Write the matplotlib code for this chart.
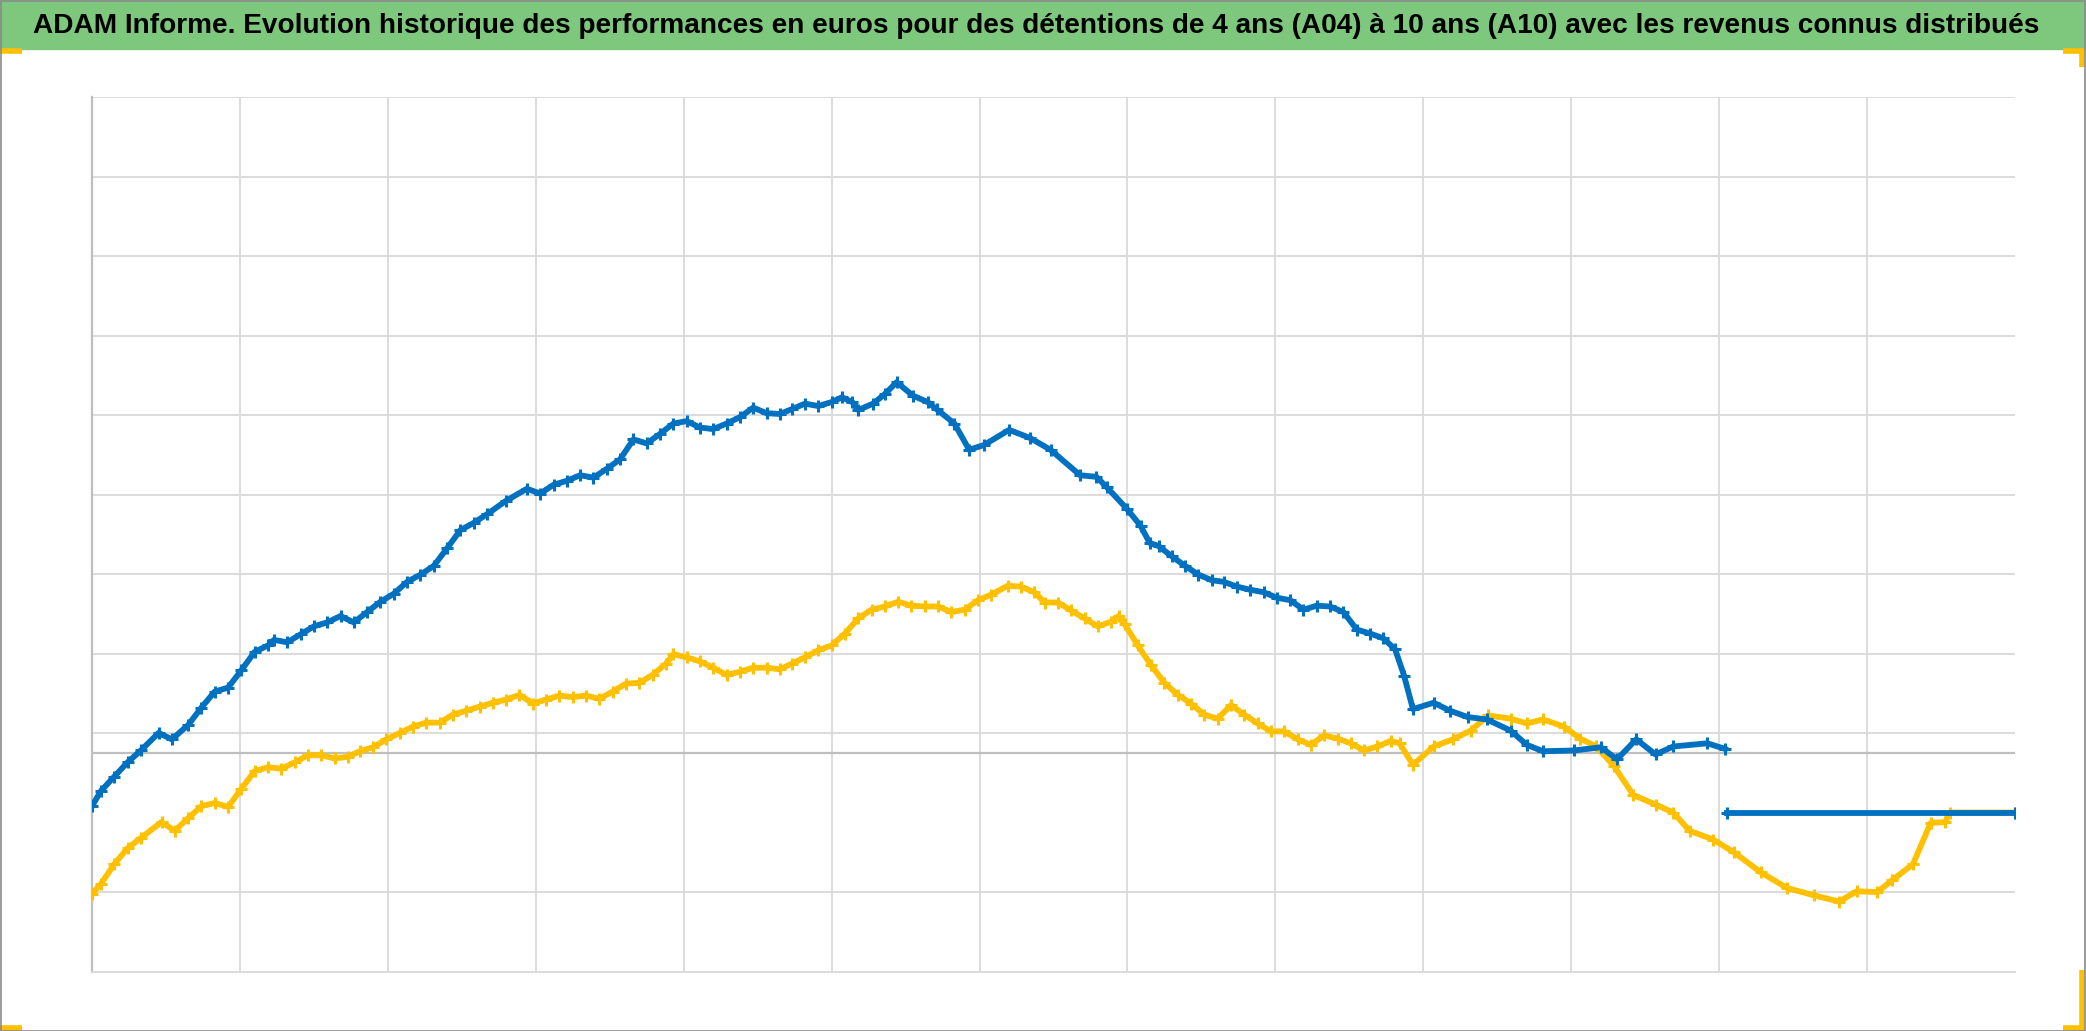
"""ADAM Informe: performance history for 4-year (A04) and 10-year (A10) holdings."""

import matplotlib

matplotlib.use("Agg")
import matplotlib.pyplot as plt
from matplotlib.lines import Line2D
from matplotlib.patches import Rectangle

TITLE = (
    "ADAM Informe. Evolution historique des performances en euros pour des "
    "détentions de 4 ans (A04) à 10 ans (A10) avec les revenus connus distribués"
)

# x in grid periods (13 of them), y in grid steps; no tick labels on the original
A10_X = [0, 0.06, 0.15, 0.24, 0.33, 0.45, 0.54, 0.65, 0.74, 0.83, 0.92, 1.01,
         1.10, 1.19, 1.23, 1.32, 1.41, 1.50, 1.59, 1.68, 1.77, 1.86, 1.95, 2.04,
         2.13, 2.22, 2.31, 2.40, 2.49, 2.58, 2.67, 2.80, 2.94, 3.03, 3.12, 3.21,
         3.30, 3.39, 3.48, 3.57, 3.66, 3.75, 3.84, 3.93, 4.02, 4.11, 4.20, 4.29,
         4.38, 4.47, 4.56, 4.65, 4.73, 4.82, 4.91, 5.00, 5.07, 5.14, 5.18, 5.28,
         5.36, 5.44, 5.55, 5.65, 5.71, 5.83, 5.93, 6.03, 6.20, 6.34, 6.48, 6.68,
         6.79, 6.86, 7.00, 7.09, 7.15, 7.21, 7.30, 7.39, 7.48, 7.57, 7.65, 7.74,
         7.83, 7.92, 8.01, 8.10, 8.19, 8.28, 8.37, 8.46, 8.55, 8.64, 8.73, 8.81,
         8.87, 8.93, 9.07, 9.18, 9.30, 9.43, 9.59, 9.70, 9.81, 10.02, 10.20,
         10.31, 10.44, 10.57, 10.69, 10.92, 11.04]
A10_Y = [-0.67, -0.48, -0.30, -0.12, 0.03, 0.25, 0.17, 0.35, 0.57, 0.77, 0.82,
         1.04, 1.27, 1.35, 1.42, 1.39, 1.49, 1.59, 1.64, 1.72, 1.64, 1.77, 1.90,
         2.00, 2.15, 2.24, 2.35, 2.57, 2.80, 2.89, 3.00, 3.17, 3.32, 3.26, 3.37,
         3.42, 3.49, 3.46, 3.57, 3.69, 3.94, 3.89, 4.01, 4.14, 4.17, 4.09, 4.07,
         4.14, 4.22, 4.34, 4.27, 4.26, 4.32, 4.39, 4.36, 4.41, 4.47, 4.41, 4.31,
         4.39, 4.51, 4.66, 4.49, 4.41, 4.32, 4.14, 3.81, 3.87, 4.06, 3.96, 3.81,
         3.49, 3.47, 3.34, 3.06, 2.85, 2.64, 2.60, 2.47, 2.35, 2.24, 2.17, 2.15,
         2.09, 2.05, 2.02, 1.95, 1.92, 1.80, 1.85, 1.84, 1.77, 1.55, 1.50, 1.44,
         1.30, 0.97, 0.55, 0.63, 0.53, 0.45, 0.42, 0.28, 0.10, 0.02, 0.03, 0.07,
         -0.08, 0.17, -0.02, 0.08, 0.12, 0.05]
A10_TAIL_X = [11.05, 13.0]
A10_TAIL_Y = [-0.75, -0.75]

A04_X = [0, 0.06, 0.15, 0.24, 0.33, 0.47, 0.56, 0.65, 0.74, 0.83, 0.92, 1.01,
         1.10, 1.19, 1.28, 1.37, 1.46, 1.55, 1.64, 1.73, 1.81, 1.90, 1.99, 2.08,
         2.17, 2.26, 2.35, 2.44, 2.53, 2.62, 2.71, 2.80, 2.89, 2.98, 3.07, 3.16,
         3.25, 3.34, 3.43, 3.52, 3.61, 3.70, 3.79, 3.88, 3.93, 4.02, 4.11, 4.20,
         4.29, 4.38, 4.47, 4.56, 4.65, 4.73, 4.82, 4.91, 5.00, 5.09, 5.18, 5.27,
         5.36, 5.45, 5.54, 5.63, 5.72, 5.81, 5.90, 5.99, 6.08, 6.19, 6.28, 6.37,
         6.44, 6.53, 6.62, 6.71, 6.80, 6.89, 6.94, 6.98, 7.07, 7.16, 7.25, 7.34,
         7.43, 7.52, 7.61, 7.70, 7.79, 7.88, 7.97, 8.06, 8.15, 8.24, 8.33, 8.42,
         8.51, 8.60, 8.69, 8.78, 8.84, 8.93, 9.07, 9.20, 9.32, 9.44, 9.59, 9.70,
         9.81, 9.95, 10.06, 10.17, 10.29, 10.42, 10.57, 10.69, 10.80, 10.96,
         11.10, 11.28, 11.46, 11.64, 11.81, 11.93, 12.07, 12.17, 12.31, 12.43,
         12.53, 12.56, 13.0]
A04_Y = [-1.77, -1.65, -1.40, -1.20, -1.07, -0.87, -0.98, -0.82, -0.67, -0.63,
         -0.68, -0.45, -0.23, -0.18, -0.20, -0.12, -0.03, -0.03, -0.07, -0.05,
         0.02, 0.07, 0.17, 0.25, 0.33, 0.38, 0.38, 0.48, 0.53, 0.58, 0.63, 0.67,
         0.73, 0.62, 0.67, 0.72, 0.70, 0.72, 0.68, 0.77, 0.87, 0.88, 0.98, 1.12,
         1.24, 1.20, 1.15, 1.07, 0.98, 1.02, 1.07, 1.07, 1.05, 1.12, 1.20, 1.29,
         1.35, 1.50, 1.69, 1.80, 1.84, 1.90, 1.85, 1.84, 1.84, 1.77, 1.80, 1.92,
         1.99, 2.10, 2.09, 2.02, 1.89, 1.89, 1.79, 1.69, 1.59, 1.65, 1.72, 1.62,
         1.35, 1.10, 0.88, 0.73, 0.62, 0.48, 0.43, 0.60, 0.48, 0.37, 0.27, 0.27,
         0.17, 0.10, 0.22, 0.18, 0.12, 0.03, 0.08, 0.15, 0.12, -0.15, 0.08, 0.17,
         0.28, 0.47, 0.43, 0.37, 0.42, 0.33, 0.18, 0.08, -0.17, -0.53, -0.65,
         -0.75, -0.98, -1.09, -1.25, -1.50, -1.70, -1.79, -1.87, -1.74, -1.75,
         -1.60, -1.40, -0.88, -0.87, -0.75, -0.75]

Y_MIN, Y_MAX = -2.755, 8.245
X_GRID = list(range(1, 13))
Y_GRID = [-1.755, 0.245, 1.245, 2.245, 3.245, 4.245, 5.245, 6.245, 7.245, 8.245]

BLUE = "#0070C0"
GOLD = "#FFC000"
W, H = 2086, 1031
TITLE_W = 2008  # pixel width the title spans in the original

fig = plt.figure(figsize=(W / 100, H / 100), dpi=100)

# green title bar, frame and the orange selection handles
fig.patches.append(Rectangle((0, 1 - 49 / H), 1, 49 / H, transform=fig.transFigure,
                             color="#7DC87D", zorder=0))
fig.patches.append(Rectangle((0.5 / W, 0.5 / H), 1 - 2 / W, 1 - 1.5 / H,
                             transform=fig.transFigure, fill=False,
                             edgecolor="#8a8a8a", lw=1.2, zorder=5))
for xs, ys in [
    ([0, 22], [H - 51, H - 51]),
    ([2063, 2082, 2082], [H - 51, H - 51, H - 67]),
    ([0, 22], [3, 3]),
    ([2063, 2082, 2082], [3, 3, 61]),
]:
    fig.lines.append(Line2D([x / W for x in xs], [y / H for y in ys],
                            transform=fig.transFigure, color=GOLD, lw=4,
                            solid_capstyle="butt", solid_joinstyle="miter"))
title = fig.text(33 / W, 1 - 26 / H, TITLE, ha="left", va="center", fontsize=20,
                 fontweight="bold", family=["Liberation Sans", "DejaVu Sans"],
                 color="black")
width = title.get_window_extent(fig.canvas.get_renderer()).width
title.set_fontsize(20 * TITLE_W / width)

ax = fig.add_axes([92 / W, 59 / H, (2015 - 92) / W, (972 - 97) / H])
ax.set_xlim(0, 13)
ax.set_ylim(Y_MIN, Y_MAX)
for x in X_GRID:
    ax.axvline(x, color="#d9d9d9", lw=1.3, zorder=1)
for y in Y_GRID:
    ax.axhline(y, color="#d9d9d9", lw=1.3, zorder=1)
ax.axhline(0, color="#bfbfbf", lw=1.6, zorder=1)
for side in ("top", "right"):
    ax.spines[side].set_visible(False)
ax.spines["left"].set_color("#bfbfbf")
ax.spines["left"].set_linewidth(1.6)
ax.spines["bottom"].set_color("#d9d9d9")
ax.spines["bottom"].set_linewidth(1.3)
ax.set_xticks([])
ax.set_yticks([])

style = dict(lw=4.2, marker="+", ms=9, mew=2.2, zorder=3)
ax.plot(A04_X, A04_Y, color=GOLD, **style)
ax.plot(A10_X, A10_Y, color=BLUE, **style)
ax.plot(A10_TAIL_X, A10_TAIL_Y, color=BLUE, **style)

fig.savefig("out.png", dpi=100)
